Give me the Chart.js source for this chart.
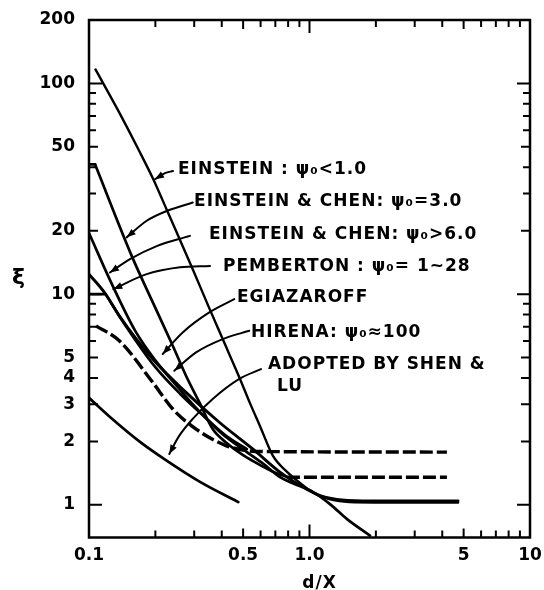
<!DOCTYPE html>
<html><head><meta charset="utf-8">
<script src="https://cdn.jsdelivr.net/npm/chart.js@4.4.1/dist/chart.umd.min.js"></script>
<style>html,body{margin:0;padding:0;background:#fff;}#wrap{width:544px;height:590px;}</style>
</head><body><div id="wrap"><canvas id="c" width="544" height="590"></canvas></div>
<script>
// ---- axis ticks ----
const yTickValues = [1, 2, 3, 4, 5, 10, 20, 50, 100, 200];
const yTickLabels = ['1', '2', '3', '4', '5', '10', '20', '50', '100', '200'];
const xTickValues = [0.1, 0.5, 1, 5, 10];
const xTickLabels = ['0.1', '0.5', '1.0', '5', '10'];
const yMinorTicks = [1,2,3,4,5,6,7,8,9,10,20,30,40,50,60,70,80,90,100];
const xMinorTicks = [0.2,0.3,0.4,0.5,0.6,0.7,0.8,0.9,1,2,3,4,5,6,7,8,9];

// ---- curves (d/X , xi) ----
const einsteinX = [0.107, 0.134, 0.1674, 0.1957, 0.2265, 0.2954, 0.3475, 0.404, 0.484, 0.537, 0.596, 0.683, 0.791, 0.906, 1.059, 1.305, 1.608, 2.57, 4.72];
const einsteinY = [116.5, 76.1, 48.7, 35.1, 24.8, 13.14, 8.80, 6.12, 3.96, 3.04, 2.37, 1.707, 1.434, 1.27, 1.13, 1.05, 1.028, 1.025, 1.025];

const chen3FlatX = [0.1, 0.1065];
const chen3FlatY = [41.3, 41.3];
const chen3X = [0.1065, 0.1562, 0.1945, 0.2398, 0.2754, 0.3164, 0.364, 0.42, 0.5, 0.6, 0.7, 0.77];
const chen3Y = [41.3, 15.19, 9.16, 5.69, 4.10, 3.07, 2.29, 1.97, 1.72, 1.54, 1.42, 1.37];

const chen6X = [0.1, 0.1258, 0.1633, 0.2, 0.26, 0.3, 0.4, 0.52, 0.62, 0.735, 0.85, 1.04, 1.25, 1.475, 1.88];
const chen6Y = [19.5, 11.4, 6.6, 4.85, 3.5, 2.95, 2.18, 1.78, 1.56, 1.353, 1.26, 1.149, 1.0, 0.858, 0.715];

const pembertonFlatX = [0.1, 0.119];
const pembertonFlatY = [10, 10];
const pembertonX = [0.119, 0.145, 0.2, 0.26, 0.33, 0.42, 0.52];
const pembertonY = [10, 7.2, 4.5, 3.35, 2.65, 2.12, 1.84];

const hirenaX = [0.1, 0.1182, 0.1372, 0.1945, 0.2754, 0.3898, 0.5526, 0.735, 0.906, 1.116, 1.329, 1.748, 4.72];
const hirenaY = [12.44, 10.1, 7.89, 4.92, 3.42, 2.466, 1.843, 1.43, 1.235, 1.107, 1.06, 1.045, 1.045];

const dashedX = [0.1076, 0.1372, 0.1945, 0.2398, 0.3058, 0.418, 0.519, 0.65, 4.2];
const dashedY = [7.07, 6.01, 3.815, 2.85, 2.29, 1.91, 1.81, 1.79, 1.78];

const plateauX = [0.79, 4.2];
const plateauY = [1.353, 1.353];

const adoptedX = [0.1, 0.1245, 0.1703, 0.2258, 0.3187, 0.4754];
const adoptedY = [3.22, 2.61, 1.989, 1.616, 1.285, 1.03];

// ---- leader lines (from label to curve) ----
const leadEinsteinX = [0.2404, 0.2211, 0.1992];
const leadEinsteinY = [38.4, 37.5, 35.1];
const leadChen3X = [0.2954, 0.2250, 0.1827, 0.1482];
const leadChen3Y = [27.2, 24.8, 22.3, 18.6];
const leadChen6X = [0.2871, 0.2028, 0.1534, 0.1245];
const leadChen6Y = [18.9, 16.9, 14.65, 12.67];
const leadPembX = [0.3538, 0.2587, 0.1827, 0.1289];
const leadPembY = [13.6, 13.4, 12.44, 10.56];
const leadEgiaX = [0.456, 0.3512, 0.266, 0.2159];
const leadEgiaY = [9.47, 8.19, 6.58, 5.20];
const leadHirX = [0.5333, 0.404, 0.3058, 0.2437];
const leadHirY = [6.70, 6.12, 5.29, 4.33];
const leadAdoptX = [0.6026, 0.4805, 0.3639, 0.2954, 0.2568, 0.2312];
const leadAdoptY = [4.41, 3.96, 3.18, 2.56, 2.13, 1.745];

// ---- annotation labels (left edge, middle) ----
const annoTexts = ['EINSTEIN : \u03C8\u2080<1.0', 'EINSTEIN & CHEN: \u03C8\u2080=3.0', 'EINSTEIN & CHEN: \u03C8\u2080>6.0',
  'PEMBERTON : \u03C8\u2080= 1~28', 'EGIAZAROFF', 'HIRENA: \u03C8\u2080\u2248100', 'ADOPTED BY SHEN &', 'LU'];
const annoX = [0.2506, 0.2963, 0.3465, 0.401, 0.4642, 0.537, 0.6413, 0.7047];
const annoY = [39.1, 27.6, 19.25, 13.57, 9.68, 6.60, 4.61, 3.66];

const pts = (xs, ys) => xs.map((x, i) => ({x: x, y: ys[i]}));
const curve = (label, xs, ys, w, extra) => Object.assign({
  label: label, data: pts(xs, ys), borderColor: '#000', borderWidth: w, pointRadius: 0,
  fill: false, cubicInterpolationMode: 'monotone', borderCapStyle: 'round', borderJoinStyle: 'round'
}, extra || {});

const datasets = [
  curve('Einstein psi<1.0', einsteinX, einsteinY, 2.4),
  curve('Einstein & Chen psi=3.0 (start)', chen3FlatX, chen3FlatY, 2.7),
  curve('Einstein & Chen psi=3.0', chen3X, chen3Y, 2.7),
  curve('Einstein & Chen psi>6.0', chen6X, chen6Y, 2.7),
  curve('Pemberton (start)', pembertonFlatX, pembertonFlatY, 2.7),
  curve('Pemberton', pembertonX, pembertonY, 2.7),
  curve('Hirena', hirenaX, hirenaY, 2.9),
  curve('dashed', dashedX, dashedY, 3.4, {borderDash: [13, 4], borderCapStyle: 'butt'}),
  curve('plateau 1.35', plateauX, plateauY, 3.4, {borderDash: [13, 4], borderCapStyle: 'butt'}),
  curve('Adopted by Shen & Lu', adoptedX, adoptedY, 2.7),
  curve('lead1', leadEinsteinX, leadEinsteinY, 2, {leader: true}),
  curve('lead2', leadChen3X, leadChen3Y, 2, {leader: true}),
  curve('lead3', leadChen6X, leadChen6Y, 2, {leader: true}),
  curve('lead4', leadPembX, leadPembY, 2, {leader: true}),
  curve('lead5', leadEgiaX, leadEgiaY, 2, {leader: true}),
  curve('lead6', leadHirX, leadHirY, 2, {leader: true}),
  curve('lead7', leadAdoptX, leadAdoptY, 2, {leader: true})
];

const FONT = '"DejaVu Sans", sans-serif';
const tickLen = v => {
  const l = Math.log10(v);
  if (Math.abs(l - Math.round(l)) < 1e-9) return 13;
  return 7;
};

const framePlugin = {
  id: 'frame',
  afterDatasetsDraw(chart) {
    const {ctx, chartArea: a, scales: {x, y}} = chart;
    ctx.save();
    ctx.strokeStyle = '#000';
    ctx.lineWidth = 2.5;
    ctx.strokeRect(a.left, a.top, a.right - a.left, a.bottom - a.top);
    ctx.lineWidth = 2;
    ctx.beginPath();
    yMinorTicks.forEach(v => {
      const py = y.getPixelForValue(v);
      const L = yTickValues.includes(v) ? Math.max(tickLen(v), 9) : tickLen(v);
      ctx.moveTo(a.left, py); ctx.lineTo(a.left + L, py);
      ctx.moveTo(a.right, py); ctx.lineTo(a.right - L, py);
    });
    xMinorTicks.forEach(v => {
      const px = x.getPixelForValue(v);
      const L = xTickValues.includes(v) ? Math.max(tickLen(v), 9) : tickLen(v);
      ctx.moveTo(px, a.bottom); ctx.lineTo(px, a.bottom - L);
      ctx.moveTo(px, a.top); ctx.lineTo(px, a.top + L);
    });
    ctx.stroke();
    // arrowheads on leader lines
    chart.data.datasets.forEach((ds, i) => {
      if (!ds.leader) return;
      const els = chart.getDatasetMeta(i).data;
      const p1 = els[els.length - 2], p2 = els[els.length - 1];
      const ang = Math.atan2(p2.y - p1.y, p2.x - p1.x);
      const L = 9, W = 3.5;
      ctx.beginPath();
      ctx.moveTo(p2.x, p2.y);
      ctx.lineTo(p2.x - L * Math.cos(ang) + W * Math.sin(ang), p2.y - L * Math.sin(ang) - W * Math.cos(ang));
      ctx.lineTo(p2.x - L * Math.cos(ang) - W * Math.sin(ang), p2.y - L * Math.sin(ang) + W * Math.cos(ang));
      ctx.closePath();
      ctx.fillStyle = '#000';
      ctx.fill();
    });
    // annotation labels
    ctx.fillStyle = '#000';
    ctx.font = 'bold 17px ' + FONT;
    ctx.letterSpacing = '1px';
    ctx.textAlign = 'left';
    ctx.textBaseline = 'middle';
    annoTexts.forEach((t, i) => {
      ctx.fillText(t, x.getPixelForValue(annoX[i]) + 1, y.getPixelForValue(annoY[i]));
    });
    // axis titles
    ctx.letterSpacing = '1px';
    ctx.font = 'bold 17px ' + FONT;
    ctx.textAlign = 'center';
    ctx.textBaseline = 'alphabetic';
    ctx.fillText('d/X', (a.left + a.right) / 2 + 10, 588);
    ctx.font = 'bold 22px ' + FONT;
    ctx.textBaseline = 'middle';
    ctx.fillText('\u03BE', 19, (a.top + a.bottom) / 2);
    ctx.restore();
  }
};

const tickFont = {family: FONT, weight: 'bold', size: 17};
new Chart(document.getElementById('c'), {
  type: 'line',
  data: {datasets: datasets},
  options: {
    responsive: false, animation: false, devicePixelRatio: 1,
    layout: {padding: {top: 20, right: 14, left: 0, bottom: 0}},
    plugins: {legend: {display: false}, tooltip: {enabled: false}},
    scales: {
      x: {
        type: 'logarithmic', position: 'bottom', min: 0.1, max: 10,
        grid: {display: false, drawTicks: false}, border: {display: false},
        ticks: {color: '#000', font: tickFont, padding: 8, autoSkip: false, maxRotation: 0,
          callback: (v, i) => xTickLabels[i]},
        afterBuildTicks: s => { s.ticks = xTickValues.map(v => ({value: v})); },
        afterFit: s => { s.height = 52.5; s.paddingLeft = 0; s.paddingRight = 0; }
      },
      y: {
        type: 'logarithmic', position: 'left', min: 0.709, max: 200,
        grid: {display: false, drawTicks: false}, border: {display: false},
        ticks: {color: '#000', font: tickFont, padding: 14, autoSkip: false,
          callback: (v, i) => yTickLabels[i]},
        afterBuildTicks: s => { s.ticks = yTickValues.map(v => ({value: v})); },
        afterFit: s => { s.width = 89; s.paddingTop = 0; s.paddingBottom = 0; }
      }
    }
  },
  plugins: [framePlugin]
});
</script></body></html>
